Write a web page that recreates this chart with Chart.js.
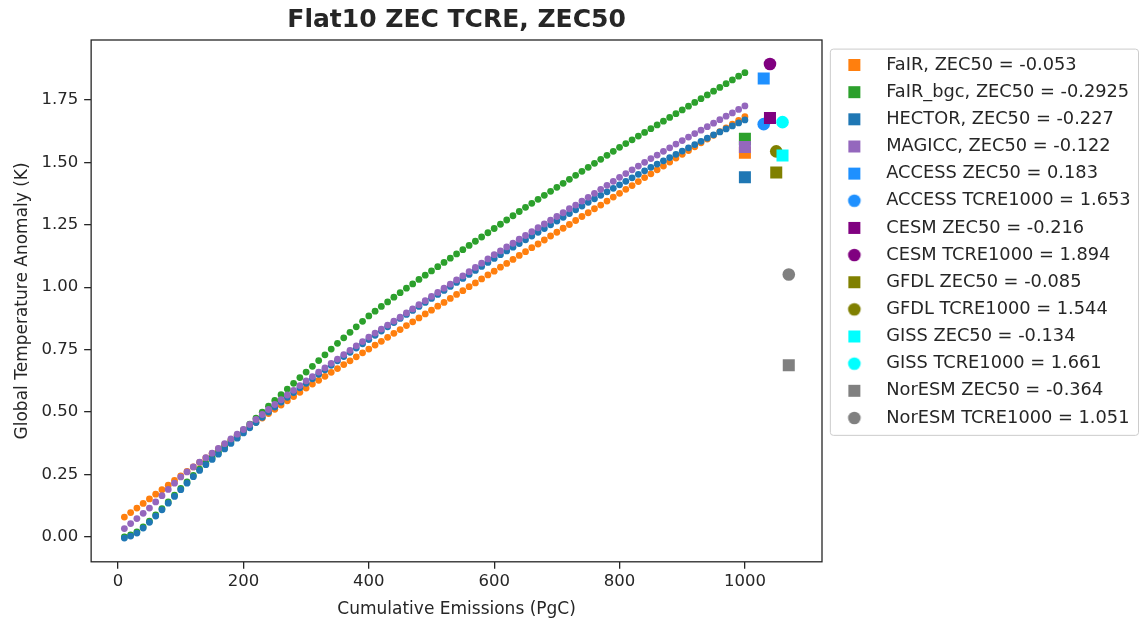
<!DOCTYPE html>
<html>
<head>
<meta charset="utf-8">
<title>Flat10 ZEC TCRE, ZEC50</title>
<script src="https://cdn.jsdelivr.net/npm/chart.js@4.4.0/dist/chart.umd.min.js"></script>
<style>
  html, body { margin: 0; padding: 0; background: #ffffff; }
  #wrap { width: 1143px; height: 621px; }
</style>
</head>
<body>
<div id="wrap"><canvas id="zec"></canvas></div>
<script>
// cumulative emissions (PgC) of the flat10 run
var emissions = [10, 20, 30, 40, 50, 60, 70, 80, 90, 100,
  110, 120, 130, 140, 150, 160, 170, 180, 190, 200,
  210, 220, 230, 240, 250, 260, 270, 280, 290, 300,
  310, 320, 330, 340, 350, 360, 370, 380, 390, 400,
  410, 420, 430, 440, 450, 460, 470, 480, 490, 500,
  510, 520, 530, 540, 550, 560, 570, 580, 590, 600,
  610, 620, 630, 640, 650, 660, 670, 680, 690, 700,
  710, 720, 730, 740, 750, 760, 770, 780, 790, 800,
  810, 820, 830, 840, 850, 860, 870, 880, 890, 900,
  910, 920, 930, 940, 950, 960, 970, 980, 990, 1000];

// global temperature anomaly (K) of the simple models
var fair = [0.079, 0.097, 0.115, 0.134, 0.152, 0.171, 0.189, 0.207, 0.226, 0.244,
  0.262, 0.280, 0.298, 0.316, 0.334, 0.352, 0.370, 0.388, 0.406, 0.424,
  0.441, 0.459, 0.476, 0.494, 0.511, 0.528, 0.545, 0.562, 0.579, 0.596,
  0.612, 0.627, 0.643, 0.659, 0.674, 0.690, 0.705, 0.721, 0.737, 0.752,
  0.768, 0.783, 0.799, 0.815, 0.830, 0.846, 0.861, 0.877, 0.893, 0.908,
  0.924, 0.939, 0.955, 0.971, 0.986, 1.002, 1.017, 1.033, 1.049, 1.064,
  1.080, 1.095, 1.111, 1.127, 1.142, 1.158, 1.173, 1.189, 1.205, 1.220,
  1.236, 1.251, 1.267, 1.283, 1.298, 1.314, 1.329, 1.345, 1.361, 1.376,
  1.392, 1.407, 1.423, 1.439, 1.454, 1.470, 1.485, 1.501, 1.517, 1.532,
  1.547, 1.562, 1.578, 1.593, 1.608, 1.623, 1.638, 1.653, 1.668, 1.683];

var fairBgc = [0.000, 0.008, 0.020, 0.040, 0.063, 0.088, 0.113, 0.140, 0.167, 0.194,
  0.220, 0.246, 0.271, 0.295, 0.317, 0.339, 0.361, 0.383, 0.405, 0.428,
  0.451, 0.475, 0.499, 0.523, 0.546, 0.569, 0.592, 0.615, 0.638, 0.660,
  0.683, 0.706, 0.729, 0.752, 0.775, 0.797, 0.819, 0.841, 0.863, 0.885,
  0.904, 0.923, 0.941, 0.960, 0.978, 0.996, 1.013, 1.031, 1.048, 1.065,
  1.082, 1.099, 1.116, 1.133, 1.150, 1.167, 1.184, 1.201, 1.218, 1.235,
  1.252, 1.269, 1.286, 1.303, 1.320, 1.336, 1.352, 1.368, 1.384, 1.400,
  1.416, 1.432, 1.448, 1.464, 1.480, 1.496, 1.512, 1.528, 1.544, 1.560,
  1.575, 1.590, 1.605, 1.620, 1.635, 1.650, 1.665, 1.680, 1.695, 1.710,
  1.725, 1.740, 1.755, 1.770, 1.785, 1.800, 1.815, 1.830, 1.845, 1.859];

var hector = [-0.005, 0.003, 0.015, 0.035, 0.058, 0.083, 0.108, 0.135, 0.162, 0.189,
  0.215, 0.241, 0.266, 0.289, 0.310, 0.331, 0.352, 0.374, 0.395, 0.416,
  0.437, 0.458, 0.479, 0.500, 0.520, 0.540, 0.559, 0.578, 0.597, 0.615,
  0.633, 0.651, 0.669, 0.687, 0.705, 0.722, 0.739, 0.756, 0.773, 0.790,
  0.807, 0.824, 0.841, 0.858, 0.875, 0.891, 0.907, 0.923, 0.939, 0.955,
  0.971, 0.987, 1.003, 1.019, 1.035, 1.051, 1.067, 1.083, 1.099, 1.115,
  1.130, 1.145, 1.160, 1.175, 1.190, 1.205, 1.220, 1.235, 1.250, 1.265,
  1.280, 1.295, 1.310, 1.325, 1.340, 1.354, 1.368, 1.382, 1.396, 1.410,
  1.424, 1.438, 1.452, 1.466, 1.480, 1.493, 1.506, 1.519, 1.532, 1.545,
  1.558, 1.571, 1.584, 1.597, 1.610, 1.622, 1.634, 1.646, 1.658, 1.670];

var magicc = [0.033, 0.053, 0.073, 0.094, 0.115, 0.140, 0.165, 0.190, 0.215, 0.240,
  0.260, 0.280, 0.299, 0.317, 0.335, 0.354, 0.373, 0.392, 0.411, 0.430,
  0.450, 0.470, 0.490, 0.510, 0.530, 0.549, 0.568, 0.587, 0.606, 0.625,
  0.642, 0.660, 0.677, 0.695, 0.712, 0.730, 0.747, 0.765, 0.782, 0.800,
  0.816, 0.832, 0.848, 0.864, 0.880, 0.897, 0.913, 0.930, 0.946, 0.963,
  0.979, 0.996, 1.012, 1.029, 1.045, 1.062, 1.079, 1.096, 1.113, 1.130,
  1.145, 1.161, 1.176, 1.192, 1.207, 1.222, 1.238, 1.253, 1.268, 1.283,
  1.298, 1.314, 1.329, 1.345, 1.360, 1.376, 1.392, 1.408, 1.424, 1.440,
  1.455, 1.470, 1.485, 1.500, 1.515, 1.529, 1.544, 1.558, 1.573, 1.587,
  1.601, 1.615, 1.629, 1.643, 1.657, 1.671, 1.685, 1.698, 1.712, 1.726];

// simple models: ZEC50 and the temperature marked at 1000 PgC
var modelNames = ["FaIR", "FaIR_bgc", "HECTOR", "MAGICC"];
var modelZec50 = ["-0.053", "-0.2925", "-0.227", "-0.122"];
var modelEndX = [1000, 1000, 1000, 1000];
var modelEndY = [1.538, 1.594, 1.440, 1.561];

// ESMs: ZEC50 square and TCRE1000 circle
var esmNames = ["ACCESS", "CESM", "GFDL", "GISS", "NorESM"];
var esmX = [1030, 1040, 1050, 1060, 1070];
var esmZec50 = ["0.183", "-0.216", "-0.085", "-0.134", "-0.364"];
var esmTcre1000 = ["1.653", "1.894", "1.544", "1.661", "1.051"];
var esmZecY = [1.836, 1.678, 1.459, 1.527, 0.687];
var esmTcreY = [1.653, 1.894, 1.544, 1.661, 1.051];

var xTicks = [0, 200, 400, 600, 800, 1000];
var yTicks = [0, 0.25, 0.5, 0.75, 1.0, 1.25, 1.5, 1.75];

// colours
var modelColors = ["#ff7f0e", "#2ca02c", "#1f77b4", "#9467bd"];
var esmColors = ["#1e90ff", "#800080", "#808000", "#00ffff", "#808080"];
var ink = "#262626";

var modelSeries = [fair, fairBgc, hector, magicc];
var datasets = [];

modelSeries.forEach(function (series, i) {
  datasets.push({
    label: modelNames[i] + " dots",
    skipLegend: true,
    data: emissions.map(function (e, j) { return { x: e, y: series[j] }; }),
    backgroundColor: modelColors[i],
    borderWidth: 0,
    pointRadius: 3.4,
    pointStyle: "circle"
  });
  datasets.push({
    label: modelNames[i] + ", ZEC50 = " + modelZec50[i],
    data: [{ x: modelEndX[i], y: modelEndY[i] }],
    backgroundColor: modelColors[i],
    borderWidth: 0,
    pointRadius: 8.5,
    pointStyle: "rect"
  });
});

esmNames.forEach(function (name, k) {
  datasets.push({
    label: name + " ZEC50 = " + esmZec50[k],
    data: [{ x: esmX[k], y: esmZecY[k] }],
    backgroundColor: esmColors[k],
    borderWidth: 0,
    pointRadius: 8.5,
    pointStyle: "rect"
  });
  datasets.push({
    label: name + " TCRE1000 = " + esmTcre1000[k],
    data: [{ x: esmX[k], y: esmTcreY[k] }],
    backgroundColor: esmColors[k],
    borderWidth: 0,
    pointRadius: 6.3,
    pointStyle: "circle"
  });
});

// later datasets drawn on top, like matplotlib
datasets.forEach(function (d, i) { d.order = -i; });

// legend glyph: marker centred in a wide transparent box
function legendGlyph(color, shape) {
  var c = document.createElement("canvas");
  c.width = 46;
  c.height = 18;
  var g = c.getContext("2d");
  g.fillStyle = color;
  if (shape === "rect") {
    g.fillRect(17, 3, 12, 12);
  } else {
    g.beginPath();
    g.arc(23, 9, 6.3, 0, Math.PI * 2);
    g.fill();
  }
  return c;
}

// chart.js caps a side legend at a quarter of the width, this one needs more
var legendWidth = 318;
var wideLegend = {
  id: "wideLegend",
  beforeLayout: function (chart) {
    var lg = chart.legend;
    if (lg && !lg._wide) {
      var fit = lg.fit;
      lg.fit = function () {
        fit.call(this);
        this.width = legendWidth;
      };
      lg._wide = true;
    }
  }
};

var frames = {
  id: "frames",
  afterDraw: function (chart) {
    var ctx = chart.ctx;
    var a = chart.chartArea;
    ctx.save();
    ctx.strokeStyle = ink;
    ctx.lineWidth = 1.3;
    ctx.strokeRect(a.left, a.top, a.right - a.left, a.bottom - a.top);
    var hb = chart.legend.legendHitBoxes;
    if (hb && hb.length) {
      var first = hb[0], last = hb[hb.length - 1];
      var l = first.left - 1.5, t = first.top - 7.5;
      var b = last.top + last.height + 8;
      var r = chart.width - 5;
      ctx.strokeStyle = "#cccccc";
      ctx.lineWidth = 1;
      ctx.beginPath();
      ctx.roundRect(l + 0.5, t + 0.5, r - l, b - t, 3);
      ctx.stroke();
    }
    ctx.restore();
  }
};

Chart.defaults.font.family = "'DejaVu Sans', sans-serif";
Chart.defaults.color = ink;

new Chart(document.getElementById("zec"), {
  type: "scatter",
  data: { datasets: datasets },
  plugins: [wideLegend, frames],
  options: {
    responsive: true,
    maintainAspectRatio: false,
    animation: false,
    events: [],
    layout: { padding: { left: 8, right: 3, top: 0, bottom: 0 } },
    plugins: {
      title: {
        display: true,
        text: "Flat10 ZEC TCRE, ZEC50",
        fullSize: false,
        color: ink,
        font: { size: 25, weight: "bold" },
        padding: { top: 5, bottom: 5 }
      },
      legend: {
        display: true,
        position: "right",
        align: "start",
        fullSize: false,
        title: { display: true, text: "", font: { size: 1 }, padding: { top: 0, bottom: 5.55 } },
        labels: {
          usePointStyle: true,
          pointStyleWidth: 46,
          color: ink,
          padding: 9.35,
          font: { size: 17.8 },
          filter: function (item, data) {
            return !data.datasets[item.datasetIndex].skipLegend;
          },
          sort: function (a, b) { return a.datasetIndex - b.datasetIndex; },
          generateLabels: function (chart) {
            var items = Chart.defaults.plugins.legend.labels.generateLabels(chart);
            items.forEach(function (it) {
              var ds = chart.data.datasets[it.datasetIndex];
              it.pointStyle = legendGlyph(ds.backgroundColor, ds.pointStyle);
            });
            return items;
          }
        }
      },
      tooltip: { enabled: false }
    },
    scales: {
      x: {
        type: "linear",
        min: -43,
        max: 1123,
        afterBuildTicks: function (scale) {
          scale.ticks = xTicks.map(function (v) { return { value: v }; });
        },
        ticks: {
          color: ink,
          font: { size: 16.5 },
          padding: 3,
          maxRotation: 0,
          callback: function (v) { return String(v); }
        },
        grid: { display: true, drawOnChartArea: false, tickLength: 7, color: ink, lineWidth: 1.3 },
        border: { display: false },
        title: {
          display: true,
          text: "Cumulative Emissions (PgC)",
          color: ink,
          font: { size: 17 },
          padding: { top: 5, bottom: 1 }
        }
      },
      y: {
        type: "linear",
        min: -0.1,
        max: 1.99,
        afterBuildTicks: function (scale) {
          scale.ticks = yTicks.map(function (v) { return { value: v }; });
        },
        ticks: {
          color: ink,
          font: { size: 16.5 },
          padding: 6,
          callback: function (v) { return Number(v).toFixed(2); }
        },
        grid: { display: true, drawOnChartArea: false, tickLength: 7, color: ink, lineWidth: 1.3 },
        border: { display: false },
        title: {
          display: true,
          text: "Global Temperature Anomaly (K)",
          color: ink,
          font: { size: 17 },
          padding: { top: 4, bottom: 3 }
        }
      }
    }
  }
});
</script>
</body>
</html>
